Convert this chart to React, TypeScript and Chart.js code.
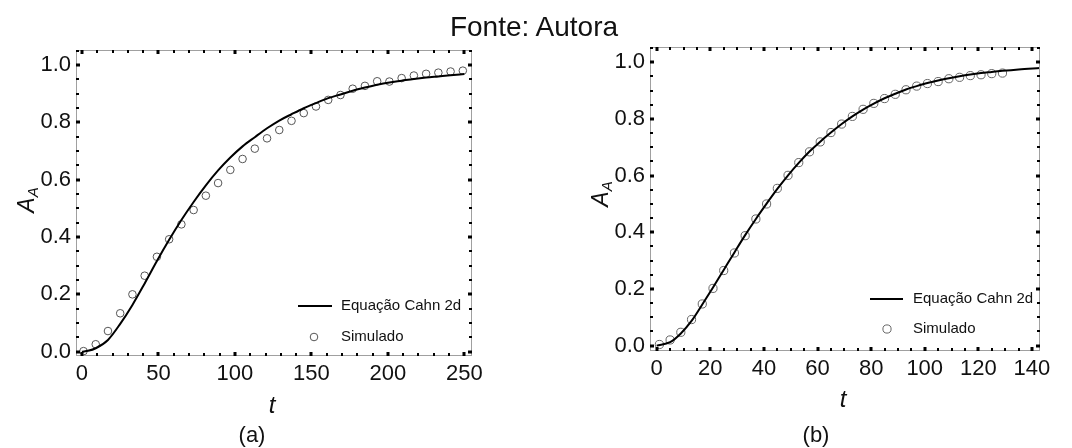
import React, { useEffect, useRef } from 'react';
import { Chart, registerables } from 'chart.js';

Chart.register(...registerables);

const FONT = '"Liberation Sans", Arial, sans-serif';

// ---- Panel (a): simulated area fraction and Cahn 2d curve ----
const simTimeA = [1, 9, 17, 25, 33, 41, 49, 57, 65, 73, 81, 89, 97, 105, 113, 121, 129, 137, 145, 153, 161, 169, 177, 185, 193, 201, 209, 217, 225, 233, 241, 249];
const simFracA = [0.002, 0.026, 0.072, 0.134, 0.2, 0.265, 0.331, 0.392, 0.444, 0.494, 0.544, 0.588, 0.634, 0.672, 0.708, 0.744, 0.773, 0.805, 0.832, 0.855, 0.878, 0.895, 0.917, 0.927, 0.943, 0.942, 0.954, 0.963, 0.969, 0.973, 0.977, 0.98];
const cahnTimeA = [0, 4, 9, 17, 25, 33, 41, 49, 57, 65, 73, 81, 89, 97, 105, 113, 121, 129, 137, 145, 153, 161, 169, 177, 185, 193, 201, 209, 217, 225, 233, 241, 250];
const cahnFracA = [0, 0.003, 0.012, 0.041, 0.097, 0.163, 0.238, 0.316, 0.39, 0.459, 0.522, 0.58, 0.632, 0.677, 0.716, 0.748, 0.779, 0.806, 0.828, 0.849, 0.867, 0.884, 0.897, 0.91, 0.921, 0.931, 0.939, 0.945, 0.951, 0.956, 0.96, 0.964, 0.968];
const xTicksA = [0, 50, 100, 150, 200, 250];

// ---- Panel (b) ----
const simTimeB = [1, 5, 9, 13, 17, 21, 25, 29, 33, 37, 41, 45, 49, 53, 57, 61, 65, 69, 73, 77, 81, 85, 89, 93, 97, 101, 105, 109, 113, 117, 121, 125, 129];
const simFracB = [0.004, 0.02, 0.047, 0.092, 0.147, 0.202, 0.265, 0.327, 0.388, 0.447, 0.5, 0.555, 0.601, 0.646, 0.684, 0.719, 0.752, 0.782, 0.809, 0.834, 0.855, 0.872, 0.887, 0.903, 0.916, 0.925, 0.932, 0.942, 0.947, 0.953, 0.956, 0.96, 0.962];
const cahnTimeB = [0, 5, 9, 13, 17, 21, 25, 29, 33, 37, 41, 45, 49, 53, 57, 61, 65, 69, 73, 77, 81, 85, 89, 93, 97, 101, 105, 109, 113, 117, 121, 125, 129, 135, 143];
const cahnFracB = [0, 0.012, 0.043, 0.087, 0.145, 0.205, 0.267, 0.329, 0.39, 0.447, 0.501, 0.553, 0.601, 0.645, 0.685, 0.72, 0.752, 0.782, 0.809, 0.833, 0.854, 0.873, 0.889, 0.904, 0.916, 0.927, 0.936, 0.944, 0.951, 0.957, 0.962, 0.966, 0.97, 0.975, 0.98];
const xTicksB = [0, 20, 40, 60, 80, 100, 120, 140];

const yTicks = [0, 0.2, 0.4, 0.6, 0.8, 1.0];
const seriesLabels = ['Equação Cahn 2d', 'Simulado'];

const CANVAS_W = 536;
const CANVAS_H = 448;

type PanelSpec = {
  caption: string;
  simT: number[];
  simV: number[];
  lineT: number[];
  lineV: number[];
  xTicks: number[];
  xMinorDiv: number;
  xMin: number;
  xMax: number;
  yMin: number;
  yMax: number;
  area: { left: number; top: number; right: number; bottom: number };
  legend: { x0: number; x1: number; y1: number; cx: number; y2: number; tx: number };
  yTitle: { x: number; y: number };
  xTitle: { x: number; y: number };
  cap: { x: number; y: number };
  pointColor: string;
  pointRadius: number;
};

const panelA: PanelSpec = {
  caption: '(a)',
  simT: simTimeA,
  simV: simFracA,
  lineT: cahnTimeA,
  lineV: cahnFracA,
  xTicks: xTicksA,
  xMinorDiv: 5,
  xMin: -3.9,
  xMax: 255,
  yMin: -0.015,
  yMax: 1.052,
  area: { left: 76, top: 50, right: 472, bottom: 356 },
  legend: { x0: 298, x1: 332, y1: 306, cx: 314, y2: 337, tx: 341 },
  yTitle: { x: 26, y: 200 },
  xTitle: { x: 272, y: 406 },
  cap: { x: 252, y: 436 },
  pointColor: '#555555',
  pointRadius: 3.8,
};

const panelB: PanelSpec = {
  caption: '(b)',
  simT: simTimeB,
  simV: simFracB,
  lineT: cahnTimeB,
  lineV: cahnFracB,
  xTicks: xTicksB,
  xMinorDiv: 4,
  xMin: -2.5,
  xMax: 143,
  yMin: -0.019,
  yMax: 1.054,
  area: { left: 114, top: 47, right: 504, bottom: 351 },
  legend: { x0: 334, x1: 367, y1: 299, cx: 351, y2: 329, tx: 377 },
  yTitle: { x: 64, y: 194 },
  xTitle: { x: 307, y: 400 },
  cap: { x: 280, y: 436 },
  pointColor: '#666666',
  pointRadius: 4.1,
};

function makeDecorPlugin(spec: PanelSpec) {
  return {
    id: 'frameDecor',
    afterDraw(chart: any) {
      const { ctx, chartArea: a } = chart;
      const xs = chart.scales.x;
      const ys = chart.scales.y;
      ctx.save();

      // gray frame around the plot area
      ctx.strokeStyle = '#a0a0a0';
      ctx.lineWidth = 1;
      ctx.strokeRect(a.left + 0.5, a.top + 0.5, a.right - a.left - 1, a.bottom - a.top - 1);

      // inward tick marks on all four sides
      ctx.fillStyle = '#000';
      const xStep = spec.xTicks[1] - spec.xTicks[0];
      const xMinor = xStep / spec.xMinorDiv;
      const nX = Math.round((spec.xTicks[spec.xTicks.length - 1] - spec.xTicks[0]) / xMinor);
      for (let i = 0; i <= nX; i++) {
        const v = spec.xTicks[0] + i * xMinor;
        const major = i % spec.xMinorDiv === 0;
        const px = Math.round(xs.getPixelForValue(v));
        const w = major ? 3 : 2;
        const len = major ? 4 : 3;
        ctx.fillRect(px - w / 2, a.bottom - len, w, len);
        ctx.fillRect(px - w / 2, a.top, w, len);
      }
      const yStep = yTicks[1] - yTicks[0];
      const yMinorDiv = 4;
      const yMinor = yStep / yMinorDiv;
      for (let i = 0; i <= 21; i++) {
        const v = yTicks[0] + i * yMinor;
        if (v > spec.yMax) break;
        const major = i % yMinorDiv === 0;
        const py = Math.round(ys.getPixelForValue(v));
        const w = major ? 3 : 2;
        const len = major ? 4 : 3;
        ctx.fillRect(a.left, py - w / 2, len, w);
        ctx.fillRect(a.right - len, py - w / 2, len, w);
      }

      // legend
      const lg = spec.legend;
      ctx.strokeStyle = '#000';
      ctx.lineWidth = 2;
      ctx.beginPath();
      ctx.moveTo(lg.x0, lg.y1);
      ctx.lineTo(lg.x1, lg.y1);
      ctx.stroke();
      ctx.strokeStyle = spec.pointColor;
      ctx.lineWidth = 1;
      ctx.beginPath();
      ctx.arc(lg.cx, lg.y2, spec.pointRadius, 0, Math.PI * 2);
      ctx.stroke();
      ctx.fillStyle = '#111';
      ctx.font = `15px ${FONT}`;
      ctx.textAlign = 'left';
      ctx.textBaseline = 'middle';
      ctx.fillText(chart.data.datasets[0].label, lg.tx, lg.y1);
      ctx.fillText(chart.data.datasets[1].label, lg.tx, lg.y2);

      // axis titles
      ctx.fillStyle = '#111';
      ctx.font = `italic 24px ${FONT}`;
      ctx.textAlign = 'center';
      ctx.textBaseline = 'middle';
      ctx.fillText('t', spec.xTitle.x, spec.xTitle.y);

      ctx.save();
      ctx.translate(spec.yTitle.x, spec.yTitle.y);
      ctx.rotate(-Math.PI / 2);
      ctx.textAlign = 'left';
      ctx.textBaseline = 'alphabetic';
      const mainFont = `italic 23px ${FONT}`;
      const subFont = `italic 15px ${FONT}`;
      ctx.font = mainFont;
      const w1 = ctx.measureText('A').width;
      ctx.font = subFont;
      const w2 = ctx.measureText('A').width;
      const start = -(w1 + w2) / 2;
      ctx.font = mainFont;
      ctx.fillText('A', start, 8);
      ctx.font = subFont;
      ctx.fillText('A', start + w1, 12);
      ctx.restore();

      // panel caption
      ctx.font = `22px ${FONT}`;
      ctx.textAlign = 'center';
      ctx.textBaseline = 'middle';
      ctx.fillText(spec.caption, spec.cap.x, spec.cap.y);

      ctx.restore();
    },
  };
}

function Panel({ spec, left }: { spec: PanelSpec; left: number }) {
  const ref = useRef<HTMLCanvasElement | null>(null);

  useEffect(() => {
    if (!ref.current) return;
    const lineData = spec.lineT.map((t, i) => ({ x: t, y: spec.lineV[i] }));
    const simData = spec.simT.map((t, i) => ({ x: t, y: spec.simV[i] }));
    const a = spec.area;

    const chart = new Chart(ref.current, {
      type: 'scatter',
      data: {
        datasets: [
          {
            label: seriesLabels[0],
            data: lineData,
            showLine: true,
            borderColor: '#000',
            borderWidth: 2,
            pointRadius: 0,
            cubicInterpolationMode: 'monotone',
          },
          {
            label: seriesLabels[1],
            data: simData,
            showLine: false,
            pointStyle: 'circle',
            pointRadius: spec.pointRadius,
            pointBorderWidth: 1,
            pointBorderColor: spec.pointColor,
            pointBackgroundColor: 'rgba(0,0,0,0)',
          },
        ],
      } as any,
      options: {
        animation: false,
        responsive: false,
        devicePixelRatio: 1,
        layout: { padding: { top: a.top, right: CANVAS_W - a.right, left: 0, bottom: 0 } },
        plugins: {
          legend: { display: false },
          tooltip: { enabled: false },
          title: { display: false },
        },
        scales: {
          x: {
            type: 'linear',
            min: spec.xMin,
            max: spec.xMax,
            grid: { display: false, drawTicks: false },
            border: { display: false },
            afterBuildTicks: (scale: any) => {
              scale.ticks = spec.xTicks.map((v) => ({ value: v }));
            },
            afterFit: (scale: any) => {
              scale.height = CANVAS_H - a.bottom;
            },
            ticks: {
              autoSkip: false,
              maxRotation: 0,
              padding: 5,
              color: '#111',
              font: { family: FONT, size: 22 },
              callback: (v: any) => String(v),
            },
          },
          y: {
            type: 'linear',
            min: spec.yMin,
            max: spec.yMax,
            grid: { display: false, drawTicks: false },
            border: { display: false },
            afterBuildTicks: (scale: any) => {
              scale.ticks = yTicks.map((v) => ({ value: v }));
            },
            afterFit: (scale: any) => {
              scale.width = a.left;
            },
            ticks: {
              autoSkip: false,
              padding: 5,
              color: '#111',
              font: { family: FONT, size: 22 },
              callback: (v: any) => Number(v).toFixed(1),
            },
          },
        },
      } as any,
      plugins: [makeDecorPlugin(spec)],
    });
    return () => chart.destroy();
  }, [spec]);

  return (
    <canvas
      ref={ref}
      width={CANVAS_W}
      height={CANVAS_H}
      style={{ position: 'absolute', left, top: 0, width: CANVAS_W, height: CANVAS_H }}
    />
  );
}

export default function App() {
  return (
    <div
      style={{
        position: 'absolute',
        left: 0,
        top: 0,
        width: 1072,
        height: 448,
        background: '#fff',
        overflow: 'hidden',
      }}
    >
      <Panel spec={panelA} left={0} />
      <Panel spec={panelB} left={CANVAS_W} />
      <div
        style={{
          position: 'absolute',
          left: 0,
          top: 13,
          width: 1068,
          textAlign: 'center',
          fontFamily: FONT,
          fontSize: 28,
          lineHeight: 1,
          color: '#111',
        }}
      >
        Fonte: Autora
      </div>
    </div>
  );
}
